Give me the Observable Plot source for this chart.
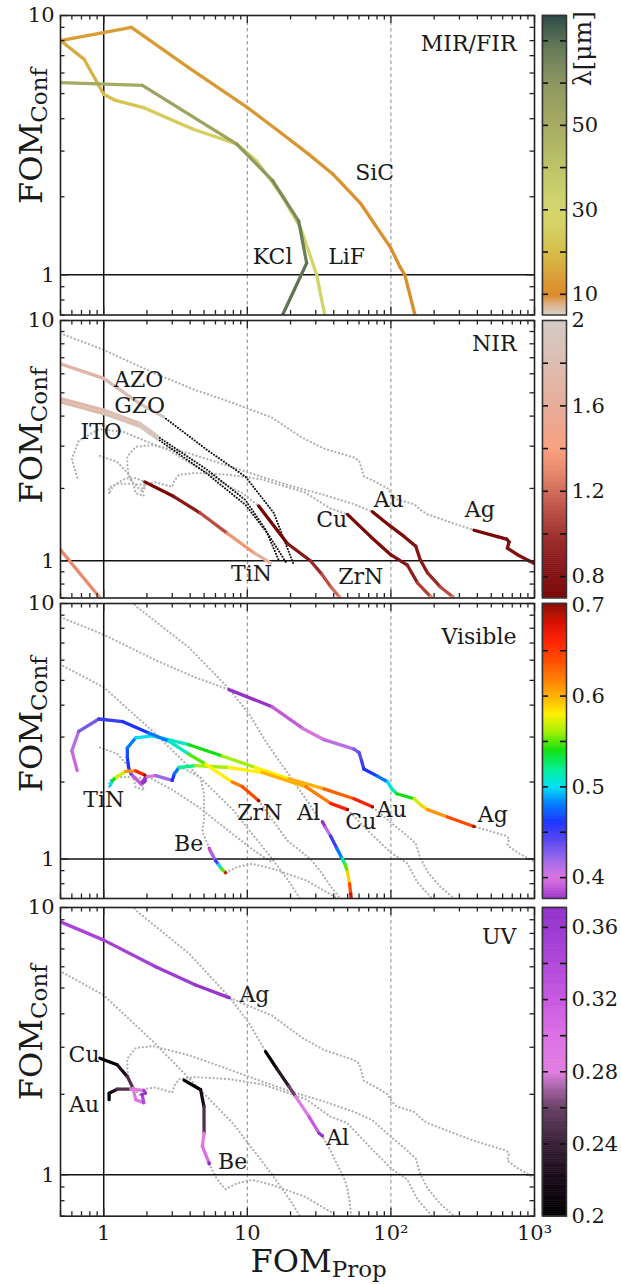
<!DOCTYPE html>
<html><head><meta charset="utf-8">
<script src="https://cdn.jsdelivr.net/npm/d3@7"></script>
<script src="https://cdn.jsdelivr.net/npm/@observablehq/plot@0.6"></script>
<style>
body{margin:0;background:#fff;}
#chart{position:relative;width:621px;height:1284px;overflow:hidden;background:#fff;}
#chart svg{position:absolute;overflow:visible;}
</style></head><body><div id="chart"></div>
<script>
// ---------------- axis / tick values ----------------
const xMajor = [1, 10, 100, 1000];
const xTickLabels = ["1", "10", "10²", "10³"];
const xMinorMult = [2, 3, 4, 5, 6, 7, 8, 9];
const xDecades = [0.1, 1, 10, 100];
const xDashed = [10, 100];
const unityX = [1];
const unityY = [1];
const yMajor = [1, 10];
const yTickLabels = ["1", "10"];
const yMinor = [0.7, 0.8, 0.9, 2, 3, 4, 5, 6, 7, 8, 9];

// ---------------- MIR/FIR curves [FOM_Prop, FOM_Conf, lambda(um)] ----------------
const SiC = [[0.5,8.0,14],[1.56,9.0,13.5],[3.9,6.3,13],[10.1,4.4,12.5],[17.1,3.53,12.2],[26.7,2.92,12],[39.3,2.45,11.7],[61.7,1.88,11.3],[99.7,1.27,11],[116,1.07,10.9],[125,1.0,10.8],[147,0.7,10.5]];
const LiF = [[0.5,8.0,16],[0.73,6.78,18],[1.0,4.97,21],[1.19,4.72,22],[1.92,4.4,24],[4.16,3.65,26],[8.4,3.2,27],[11.6,2.75,28],[17.1,2.05,29],[23.5,1.52,30],[30.4,1.0,31],[34.6,0.7,32]];
const KCl = [[0.5,5.51,50],[1.86,5.38,53],[8.4,3.2,58],[15,2.31,63],[22.8,1.61,67],[25.9,1.11,69],[17.6,0.7,72]];

// ---------------- metals / nitrides across UV, visible, NIR ----------------
const Ag = [[0.5,8.84,0.345],[1.0,7.55,0.35],[2.3,6.0,0.356],[4.36,5.13,0.364],[7.45,4.6,0.375],
 [14.9,3.94,0.39],[24.2,3.25,0.40],[34.2,2.93,0.41],[55.3,2.69,0.43],[60,2.61,0.44],[62.5,2.42,0.45],[64.8,2.25,0.46],[80.5,2.11,0.48],[95,2.0,0.50],[101.5,1.88,0.52],[110,1.80,0.54],[145,1.72,0.57],[163,1.62,0.59],[180,1.56,0.61],[248,1.46,0.64],[379,1.34,0.70],
 [552,1.26,0.74],[640,1.23,0.76],[665,1.2,0.77],[648,1.13,0.78],[760,1.06,0.80],[916,1.0,0.82],[1200,0.92,0.85]];
const Au = [[1.09,1.91,0.20],[1.09,2.02,0.22],[1.24,2.09,0.25],[1.54,2.09,0.29],[1.90,2.07,0.35],[1.95,2.02,0.375],
 [1.83,1.96,0.39],[1.55,2.15,0.44],[1.49,2.28,0.46],[1.46,2.5,0.47],[1.46,2.72,0.48],[1.67,2.98,0.50],[2.19,3.03,0.51],[3.92,2.80,0.54],[6.69,2.53,0.56],[11.4,2.28,0.58],[19.5,2.06,0.60],[34.2,1.88,0.63],[55.3,1.72,0.66],[74.3,1.60,0.70],
 [99.7,1.39,0.75],[124,1.26,0.78],[149,1.15,0.82],[160,1.01,0.86],[180,0.89,0.95],[220,0.78,1.1],[268,0.71,1.25],[290,0.67,1.3]];
const Cu = [[0.94,2.73,0.20],[1.24,2.58,0.22],[1.46,2.33,0.25],[1.60,2.11,0.28],[1.67,1.91,0.30],[1.9,1.86,0.34],[1.85,2.0,0.375],
 [2.0,2.1,0.40],[2.30,2.12,0.42],[3.0,2.03,0.46],[3.1,2.15,0.48],[3.34,2.28,0.52],[4.36,2.32,0.56],[7.45,2.28,0.58],[12.7,2.18,0.60],[25.5,1.92,0.62],[38,1.65,0.66],[49.8,1.56,0.70],
 [72.3,1.26,0.75],[99.7,1.06,0.80],[130,0.96,0.88],[153,0.81,1.05],[189,0.71,1.3],[200,0.68,1.35]];
const Al = [[1.5,10.8,0.12],[1.67,9.77,0.13],[3.92,6.73,0.16],[7.45,4.64,0.18],[10.3,3.69,0.19],
 [13.4,2.89,0.20],[16,2.5,0.23],[19.5,2.14,0.26],[21.7,1.96,0.285],[26.9,1.65,0.32],[31.6,1.43,0.36],[33.3,1.40,0.375],
 [35,1.33,0.41],[38,1.23,0.45],[42,1.1,0.48],[45.9,1.0,0.52],[48,0.95,0.55],[49.8,0.89,0.59],[51.5,0.8,0.64],[52.5,0.73,0.68],[53.5,0.66,0.70]];
const Be = [[3.62,2.26,0.20],[4.73,2.08,0.22],[4.99,1.80,0.25],[5.0,1.43,0.28],[4.86,1.28,0.30],[5.4,1.11,0.35],[5.43,1.10,0.375],
 [5.46,1.09,0.39],[5.7,1.04,0.42],[6.01,0.985,0.45],[6.3,0.95,0.50],[6.6,0.916,0.55],[7.06,0.883,0.68],
 [8.5,0.93,0.8],[10.8,0.957,0.9],[14.9,0.916,1.0],[25.5,0.826,1.2],[39.1,0.72,1.4],[45,0.68,1.5]];
const TiN = [[1.11,1.94,0.50],[1.15,2.03,0.54],[1.22,2.09,0.57],[1.42,2.20,0.61],[1.67,2.21,0.66],[1.93,2.13,0.70],
 [3.08,1.85,0.85],[4.7,1.58,1.1],[7.26,1.30,1.35],[11.1,1.08,1.65],[14.5,0.98,1.95]];
const ZrN = [[0.653,2.22,0.395],[0.60,2.65,0.41],[0.67,3.16,0.43],[0.925,3.53,0.45],[1.35,3.45,0.46],[2.06,3.11,0.48],[2.84,2.89,0.51],[3.92,2.57,0.55],[5.12,2.35,0.58],[7.86,2.0,0.62],[9.2,1.92,0.64],[12.0,1.69,0.70],
 [19.0,1.18,0.82],[27.5,1.0,0.95],[33,0.88,1.1],[38.1,0.78,1.2],[43.5,0.71,1.3],[46,0.68,1.35]];
// transparent conducting oxides (NIR; beyond 2 um drawn black dotted)
const AZO = [[0.45,6.9,1.70],[0.5,6.6,1.72],[1.0,5.74,1.80],[1.78,4.51,1.90],[2.61,3.97,2.0],[5.26,2.89,2.3],[9.7,2.24,2.6],[15.3,1.58,3.0],[21.1,0.96,3.5]];
const GZO = [[0.45,4.8,1.74],[0.5,4.73,1.75],[1.0,4.24,1.82],[1.78,3.73,1.92],[2.36,3.30,2.0],[5.26,2.39,2.3],[9.7,1.79,2.6],[13.4,1.35,3.0],[16.5,1.01,3.5]];
const ITO = [[0.45,4.65,1.76],[0.5,4.58,1.77],[1.0,4.1,1.84],[1.78,3.63,1.93],[2.36,3.22,2.0],[5.26,2.30,2.3],[9.7,1.71,2.6],[14.1,1.28,3.0],[18.5,0.99,3.5]];
const NIRedge = [[0.45,1.2,1.28],[0.5,1.11,1.3],[0.925,0.71,1.36],[0.98,0.68,1.37]];
// extra reference trace (grey dotted) in UV and visible panels
const extraTrace = [[0.45,6.05],[0.5,5.77],[1.0,4.70],[2.25,3.12],[4.7,2.08],[8.0,1.55],[14.9,1.0],[20,0.8],[24,0.68]];

// ---------------- colour maps (lambda stops) ----------------
const mirStopsL = [2, 6, 10, 15, 20, 27, 32, 40, 50, 60, 68, 76];
const mirStopsC = ["#d9d1cb","#dcb48e","#dc8a28","#d9a23a","#d6bf4a","#d5d366","#d0d46c","#bdc365","#a5aa60","#8c965e","#657a57","#2c4b48"];
const nirStopsL = [0.7,0.8,0.9,1.0,1.1,1.2,1.3,1.4,1.5,1.6,1.8,2.0];
const nirStopsC = ["#780404","#831212","#8f2020","#a03430","#b84c42","#d06a58","#ea8a6c","#f8a07e","#eea58c","#e6ac98","#ddbcb0","#d3cbc5"];
const visStopsL = [0.375,0.39,0.40,0.42,0.44,0.46,0.48,0.50,0.52,0.54,0.56,0.58,0.60,0.62,0.64,0.66,0.68,0.70];
const visStopsC = ["#9632c8","#c45ad8","#d874e0","#9a68ea","#5a48f2","#1e32ff","#0078ff","#00e0f4","#00f090","#10e010","#a0f000","#fff000","#ffb000","#ff7a00","#ff4a00","#ff2200","#d81000","#8c0c00"];
const uvStopsL = [0.2,0.22,0.24,0.26,0.27,0.28,0.30,0.32,0.34,0.36,0.375];
const uvStopsC = ["#000000","#180a18","#382036","#684066","#a060a0","#e07ee0","#dc70e6","#c858e0","#b048da","#9a38d0","#9030c8"];

// ---------------- colour bars ----------------
const mirCbDomain = [2, 10, 76];
const mirCbLabels = [10, 30, 50];
const mirCbDashes = [10, 20, 30, 40, 50, 60, 70];
const nirCbDomain = [0.7, 2.0];
const nirCbLabels = [0.8, 1.2, 1.6, 2];
const nirCbDashes = [0.8, 1.0, 1.2, 1.4, 1.6, 1.8];
const visCbDomain = [0.377, 0.702];
const visCbLabels = [0.4, 0.5, 0.6, 0.7];
const visCbDashes = [0.4, 0.45, 0.5, 0.55, 0.6, 0.65];
const uvCbDomain = [0.2, 0.371];
const uvCbLabels = [0.2, 0.24, 0.28, 0.32, 0.36];
const uvCbDashes = [0.22, 0.24, 0.26, 0.28, 0.30, 0.32, 0.34, 0.36];

// ---------------- text labels ----------------
const panelNames = ["MIR/FIR", "NIR", "Visible", "UV"];
const mirLabelText = ["SiC", "KCl", "LiF"];
const mirLabelX = [77, 15, 49.2];
const mirLabelY = [2.48, 1.17, 1.17];
const nirLabelText = ["AZO", "GZO", "ITO", "TiN", "ZrN", "Cu", "Au", "Ag"];
const nirLabelX = [1.75, 1.78, 0.96, 10.7, 61.7, 38.7, 96.5, 416];
const nirLabelY = [5.64, 4.40, 3.45, 0.88, 0.86, 1.48, 1.79, 1.63];
const visLabelText = ["TiN", "ZrN", "Al", "Cu", "Au", "Ag", "Be"];
const visLabelX = [1.0, 12.2, 26.7, 61.7, 101, 512, 3.9];
const visLabelY = [1.70, 1.51, 1.52, 1.40, 1.56, 1.49, 1.14];
const uvLabelText = ["Ag", "Cu", "Au", "Be", "Al"];
const uvLabelX = [11.2, 0.73, 0.73, 7.9, 42.6];
const uvLabelY = [4.70, 2.81, 1.82, 1.12, 1.37];

// ---------------- layout (pixels) ----------------
const W = 621, ML = 60, MR = 87, PW = W - ML - MR;
const layout = [
  {top: 14.5, h: 299.5, mt: 14, mb: 14, nameDy: 28.8, ylabDy: 188.5},
  {top: 320, h: 277.5, mt: 14, mb: 14, nameDy: 23.3, ylabDy: 183},
  {top: 603, h: 295, mt: 14, mb: 14, nameDy: 33.7, ylabDy: 188.7},
  {top: 907.3, h: 308.7, mt: 14, mb: 72, nameDy: 29.4, ylabDy: 192.7}
];
const FONT = "DejaVu Serif";

// ---------------- build tables ----------------
const rows = (id, pts) => pts.map(([x, y, l]) => ({id, x, y, l}));
const within = (arr, lo, hi) => arr.filter(d => d.l >= lo - 1e-9 && d.l <= hi + 1e-9);
const M = {Ag, Au, Cu, Al, Be, TiN, ZrN};
const matRows = names => names.flatMap(n => rows(n, M[n]));
const xMinor = xDecades.flatMap(dd => xMinorMult.map(m => +(m * dd).toPrecision(3))).filter(v => v >= 0.5 && v <= 1000);
const labelRows = (t, xs, ys) => t.map((s, i) => ({s, x: xs[i], y: ys[i]}));
const tco = [...rows("AZO", AZO), ...rows("GZO", GZO), ...rows("ITO", ITO)];

const panels = [
  {stopsL: mirStopsL, stopsC: mirStopsC, guides: [], black: [],
   colored: [...rows("SiC", SiC), ...rows("LiF", LiF), ...rows("KCl", KCl)],
   labels: labelRows(mirLabelText, mirLabelX, mirLabelY),
   cb: {domain: mirCbDomain, labels: mirCbLabels, dashes: mirCbDashes, frac: [1, 278.8 / 299.5, 0], title: "λ[μm]"}},
  {stopsL: nirStopsL, stopsC: nirStopsC,
   guides: matRows(["Ag", "Au", "Cu", "TiN", "ZrN"]),
   black: within(tco, 2.0, 10),
   colored: within([...matRows(["Ag", "Au", "Cu", "TiN", "ZrN"]), ...tco, ...rows("NIRedge", NIRedge)], 0.7, 2.0),
   labels: labelRows(nirLabelText, nirLabelX, nirLabelY),
   cb: {domain: nirCbDomain, labels: nirCbLabels, dashes: nirCbDashes}},
  {stopsL: visStopsL, stopsC: visStopsC,
   guides: [...matRows(["Ag", "Au", "Cu", "Al", "Be", "TiN", "ZrN"]), ...rows("extra", extraTrace)],
   black: [],
   colored: within(matRows(["Ag", "Au", "Cu", "Al", "Be", "TiN", "ZrN"]), 0.375, 0.70),
   labels: labelRows(visLabelText, visLabelX, visLabelY),
   cb: {domain: visCbDomain, labels: visCbLabels, dashes: visCbDashes}},
  {stopsL: uvStopsL, stopsC: uvStopsC,
   guides: [...matRows(["Ag", "Au", "Cu", "Al", "Be"]), ...rows("extra", extraTrace)],
   black: [],
   colored: within(matRows(["Ag", "Au", "Cu", "Al", "Be"]), 0.2, 0.375),
   labels: labelRows(uvLabelText, uvLabelX, uvLabelY),
   cb: {domain: uvCbDomain, labels: uvCbLabels, dashes: uvCbDashes}}
];

const chart = document.getElementById("chart");
const baseStyle = {background: "transparent", fontFamily: FONT, fontSize: "21px", overflow: "visible", color: "#1a1a1a"};

function subscriptify(svg) {
  d3.select(svg).selectAll("text").each(function () {
    const t = this.textContent;
    if (t.includes("_")) {
      const [a, b] = t.split("_");
      const sel = d3.select(this);
      sel.text("");
      sel.append("tspan").text(a);
      sel.append("tspan").attr("font-size", 23).attr("dy", 5).text(b);
    }
  });
}

panels.forEach((p, i) => {
  const lay = layout[i];
  const H = lay.h + lay.mt + lay.mb;
  const bottom = i === panels.length - 1;
  const tk = {stroke: "#222", strokeWidth: 1.3};
  const marks = [
    Plot.ruleX(xDashed, {stroke: "#8a8a8a", strokeWidth: 1, strokeDasharray: "3.5,3"}),
    p.guides.length ? Plot.line(p.guides, {x: "x", y: "y", z: "id", stroke: "#b0b0b0", strokeWidth: 2.2, strokeDasharray: "0.1,3.7", strokeLinecap: "round", clip: true}) : null,
    p.black.length ? Plot.line(p.black, {x: "x", y: "y", z: "id", stroke: "#111", strokeWidth: 2, strokeDasharray: "0.1,2.9", strokeLinecap: "round", clip: true}) : null,
    Plot.ruleX(unityX, {stroke: "#111", strokeWidth: 1.5}),
    Plot.ruleY(unityY, {stroke: "#111", strokeWidth: 1.5}),
    Plot.line(p.colored, {x: "x", y: "y", z: "id", stroke: "l", strokeWidth: 3.3, strokeLinecap: "round", strokeLinejoin: "round", clip: true}),
    Plot.frame({stroke: "#222", strokeWidth: 1.6}),
    Plot.tickX(xMajor, {x: d => d, insetTop: lay.h - 8, ...tk}),
    Plot.tickX(xMajor, {x: d => d, insetBottom: lay.h - 8, ...tk}),
    Plot.tickX(xMinor, {x: d => d, insetTop: lay.h - 4.5, ...tk}),
    Plot.tickX(xMinor, {x: d => d, insetBottom: lay.h - 4.5, ...tk}),
    Plot.tickY(yMajor, {y: d => d, insetRight: PW - 8, ...tk}),
    Plot.tickY(yMajor, {y: d => d, insetLeft: PW - 8, ...tk}),
    Plot.tickY(yMinor, {y: d => d, insetRight: PW - 4.5, ...tk}),
    Plot.tickY(yMinor, {y: d => d, insetLeft: PW - 4.5, ...tk}),
    Plot.text(yMajor, {y: d => d, text: (d, j) => yTickLabels[j], frameAnchor: "left", dx: -6, textAnchor: "end", lineAnchor: "middle", fill: "#1a1a1a", fontSize: 21}),
    Plot.text([panelNames[i]], {frameAnchor: "top-right", dx: -18, dy: lay.nameDy, textAnchor: "end", lineAnchor: "middle", fill: "#1a1a1a", fontSize: 22}),
    Plot.text(p.labels, {x: "x", y: "y", text: "s", textAnchor: "middle", lineAnchor: "middle", fill: "#1a1a1a", fontSize: 22}),
    Plot.text(["FOM_Conf"], {frameAnchor: "top-left", dx: -19, dy: lay.ylabDy, rotate: -90, textAnchor: "start", lineAnchor: "bottom", fill: "#1a1a1a", fontSize: 32})
  ];
  if (bottom) {
    marks.push(Plot.text(xMajor, {x: d => d, text: (d, j) => xTickLabels[j], frameAnchor: "bottom", dy: 17, lineAnchor: "middle", fill: "#1a1a1a", fontSize: 21}));
    marks.push(Plot.text(["FOM_Prop"], {frameAnchor: "bottom-left", dx: 190, dy: 55.7, textAnchor: "start", lineAnchor: "bottom", fill: "#1a1a1a", fontSize: 32}));
  }
  const svg = Plot.plot({
    width: W, height: H,
    marginLeft: ML, marginRight: MR, marginTop: lay.mt, marginBottom: lay.mb,
    style: baseStyle,
    x: {type: "log", domain: [0.5, 1000], axis: null},
    y: {type: "log", domain: [0.7, 10], axis: null},
    color: {type: "linear", domain: p.stopsL, range: p.stopsC, interpolate: "rgb", clamp: true},
    marks: marks.filter(Boolean)
  });
  subscriptify(svg);
  svg.style.left = "0px";
  svg.style.top = (lay.top - lay.mt) + "px";
  chart.appendChild(svg);

  // colour bar
  const cb = p.cb;
  const slices = [];
  for (let k = 0; k < cb.domain.length - 1; k++) {
    const a = cb.domain[k], b = cb.domain[k + 1], n = 140;
    for (let j = 0; j < n; j++) {
      const y1 = a + (b - a) * j / n, y2 = a + (b - a) * (j + 1) / n;
      slices.push({y1, y2, v: (y1 + y2) / 2});
    }
  }
  const yScale = {type: "linear", domain: cb.domain, axis: null};
  if (cb.frac) yScale.range = cb.frac.map(f => lay.mt + f * lay.h);
  const cbMarks = [
    Plot.rect(slices, {x1: 0, x2: 1, y1: "y1", y2: "y2", fill: "v", stroke: "v", strokeWidth: 0.6}),
    Plot.tickY(cb.dashes, {y: d => d, insetRight: 18, stroke: "#111", strokeWidth: 1.6}),
    Plot.tickY(cb.dashes, {y: d => d, insetLeft: 18, stroke: "#111", strokeWidth: 1.6}),
    Plot.frame({stroke: "#333", strokeWidth: 1.5}),
    Plot.text(cb.labels, {y: d => d, text: d => String(d), frameAnchor: "right", dx: 5, textAnchor: "start", lineAnchor: "middle", fill: "#1a1a1a", fontSize: 21})
  ];
  if (cb.title) cbMarks.push(Plot.text([cb.title], {frameAnchor: "top-right", dx: 24, dy: -4.5, rotate: -90, textAnchor: "end", lineAnchor: "bottom", fill: "#1a1a1a", fontSize: 25}));
  const cbs = Plot.plot({
    width: 81, height: H,
    marginLeft: 2, marginRight: 55, marginTop: lay.mt, marginBottom: lay.mb,
    style: baseStyle,
    x: {domain: [0, 1], axis: null},
    y: yScale,
    color: {type: "linear", domain: p.stopsL, range: p.stopsC, interpolate: "rgb", clamp: true},
    marks: cbMarks
  });
  cbs.style.left = "540px";
  cbs.style.top = (lay.top - lay.mt) + "px";
  chart.appendChild(cbs);
});
</script></body></html>
